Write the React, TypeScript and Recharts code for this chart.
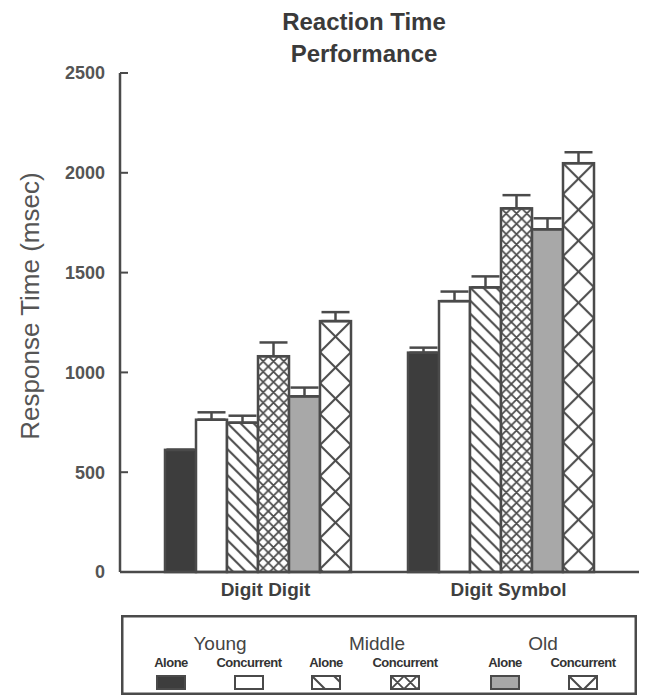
import React from 'react';
import { BarChart, Bar, XAxis, YAxis, ErrorBar, Legend } from 'recharts';

// task categories on the x axis
const categories = ['Digit Digit', 'Digit Symbol'];

// mean response times (msec) per age group / condition
const youngAlone = [612, 1099];
const youngConcurrent = [763, 1357];
const middleAlone = [748, 1426];
const middleConcurrent = [1081, 1822];
const oldAlone = [880, 1717];
const oldConcurrent = [1257, 2048];

// upper error bars (msec)
const youngAloneErr = [0, 25];
const youngConcurrentErr = [37, 48];
const middleAloneErr = [35, 55];
const middleConcurrentErr = [69, 66];
const oldAloneErr = [44, 55];
const oldConcurrentErr = [45, 55];

const yTicks = [0, 500, 1000, 1500, 2000, 2500];
const groups = ['Young', 'Middle', 'Old'];

const INK = '#4a4a4a';

const series = [
  { key: 'youngAlone', condition: 'Alone', kind: 'dark', values: youngAlone, err: youngAloneErr },
  { key: 'youngConcurrent', condition: 'Concurrent', kind: 'white', values: youngConcurrent, err: youngConcurrentErr },
  { key: 'middleAlone', condition: 'Alone', kind: 'diag', values: middleAlone, err: middleAloneErr },
  { key: 'middleConcurrent', condition: 'Concurrent', kind: 'fine', values: middleConcurrent, err: middleConcurrentErr },
  { key: 'oldAlone', condition: 'Alone', kind: 'gray', values: oldAlone, err: oldAloneErr },
  { key: 'oldConcurrent', condition: 'Concurrent', kind: 'coarse', values: oldConcurrent, err: oldConcurrentErr },
];

const rows = categories.map((category, i) => {
  const row: Record<string, any> = { category };
  series.forEach((s) => {
    row[s.key] = s.values[i];
    row[s.key + 'Err'] = [0, s.err[i]];
  });
  return row;
});

const solidFill: Record<string, string> = { dark: '#3d3d3d', gray: '#a8a8a8', white: '#ffffff' };

function makePattern(id: string, kind: string, x: number, y: number, s: number) {
  const back = `M-1,${s - 1}l2,2M0,0L${s},${s}M${s - 1},-1l2,2`;
  const fwd = `M-1,1l2,-2M0,${s}L${s},0M${s - 1},${s + 1}l2,-2`;
  const d = kind === 'diag' ? back : back + fwd;
  return (
    <pattern id={id} key={id} patternUnits="userSpaceOnUse" x={x} y={y} width={s} height={s}>
      <rect width={s} height={s} fill="#fff" />
      <path d={d} stroke={INK} strokeWidth={kind === 'fine' ? 1.8 : 2} fill="none" />
    </pattern>
  );
}

function fillFor(kind: string, id: string) {
  return solidFill[kind] ?? `url(#${id})`;
}

const barShape = (key: string, kind: string) => (props: any) => {
  const { x, y, width, height, index } = props;
  if (!height || height <= 0) return <g />;
  const pid = `${key}-${index}`;
  const tile = kind === 'diag' ? 13 : kind === 'fine' ? width / 3 : width;
  return (
    <g>
      {!solidFill[kind] && <defs>{makePattern(pid, kind, x, y, tile)}</defs>}
      <rect x={x} y={y} width={width} height={height} fill={fillFor(kind, pid)} stroke={INK} strokeWidth={2.5} />
    </g>
  );
};

// y tick label plus a short tick mark pointing into the plot
const YTick = (props: any) => {
  const { x, y, payload } = props;
  return (
    <g>
      <line x1={x + 15} x2={x + 23} y1={y} y2={y} stroke={INK} strokeWidth={2} />
      <text x={x} y={y} dy="0.35em" textAnchor="end" fontSize={18} fontWeight="bold" fill="#555">
        {payload.value}
      </text>
    </g>
  );
};

function LegendBox() {
  const groupX = [99, 256, 422];
  const itemX = [50, 128, 205, 284, 384, 462];
  const legendTile: Record<string, number> = { diag: 22, fine: 13, coarse: 28 };
  return (
    <svg width={516} height={80} style={{ display: 'block' }}>
      <defs>
        {series.map((s, i) =>
          solidFill[s.kind] ? null : makePattern(`${s.key}-legend`, s.kind, itemX[i] - 14, 61, legendTile[s.kind])
        )}
      </defs>
      <rect x={1.25} y={1.25} width={513.5} height={77.5} fill="#fff" stroke={INK} strokeWidth={2.5} />
      {groups.map((g, gi) => (
        <text key={g} x={groupX[gi]} y={35} textAnchor="middle" fontSize={19} fill="#444">
          {g}
        </text>
      ))}
      {series.map((s, i) => (
        <g key={s.key}>
          <text x={itemX[i]} y={52} textAnchor="middle" fontSize={13} fontWeight="bold" fill="#333" letterSpacing={-0.5}>
            {s.condition}
          </text>
          <rect x={itemX[i] - 14} y={61} width={28} height={13} fill={fillFor(s.kind, `${s.key}-legend`)} stroke={INK} strokeWidth={2} />
        </g>
      ))}
    </svg>
  );
}

export default function App() {
  return (
    <div
      style={{
        position: 'absolute',
        left: 0,
        top: 0,
        width: 648,
        height: 697,
        background: '#fff',
        fontFamily: '"Liberation Sans", Arial, Helvetica, sans-serif',
      }}
    >
      <BarChart
        width={648}
        height={697}
        data={rows}
        margin={{ top: 73, right: 9, bottom: 95, left: 0 }}
        barGap={0}
        barSize={31}
      >
        <text x={364} y={30} textAnchor="middle" fontSize={24} fontWeight="bold" fill="#3a3a3a">
          Reaction Time
        </text>
        <text x={364} y={62} textAnchor="middle" fontSize={24} fontWeight="bold" fill="#3a3a3a">
          Performance
        </text>
        <text
          x={30}
          y={306}
          transform="rotate(-90 30 306)"
          textAnchor="middle"
          dominantBaseline="central"
          fontSize={26}
          fill="#555"
        >
          Response Time (msec)
        </text>
        <XAxis
          dataKey="category"
          height={30}
          padding={{ left: 16, right: 17 }}
          tickLine={false}
          tickSize={0}
          tickMargin={11}
          axisLine={{ stroke: INK, strokeWidth: 2.5 }}
          tick={{ fill: '#3f3f3f', fontSize: 19, fontWeight: 'bold', dx: 8 }}
        />
        <XAxis
          xAxisId="top"
          orientation="top"
          dataKey="category"
          height={0}
          tick={false}
          tickLine={false}
          axisLine={{ stroke: INK, strokeWidth: 2.5 }}
        />
        <YAxis
          width={120}
          domain={[0, 2500]}
          ticks={yTicks}
          tickSize={0}
          tickMargin={15}
          tickLine={false}
          axisLine={{ stroke: INK, strokeWidth: 2.5 }}
          tick={<YTick />}
        />
        <YAxis
          yAxisId="right"
          orientation="right"
          width={0}
          domain={[0, 2500]}
          tick={false}
          tickLine={false}
          axisLine={{ stroke: INK, strokeWidth: 2.5 }}
        />
        {series.map((s) => (
          <Bar key={s.key} dataKey={s.key} isAnimationActive={false} shape={barShape(s.key, s.kind)}>
            <ErrorBar
              dataKey={s.key + 'Err'}
              direction="y"
              width={14}
              stroke={INK}
              strokeWidth={2.5}
              isAnimationActive={false}
            />
          </Bar>
        ))}
        <Legend
          layout="horizontal"
          verticalAlign="middle"
          align="center"
          wrapperStyle={{ position: 'absolute', left: 121, top: 615, width: 516, height: 80 }}
          content={() => <LegendBox />}
        />
      </BarChart>
    </div>
  );
}
